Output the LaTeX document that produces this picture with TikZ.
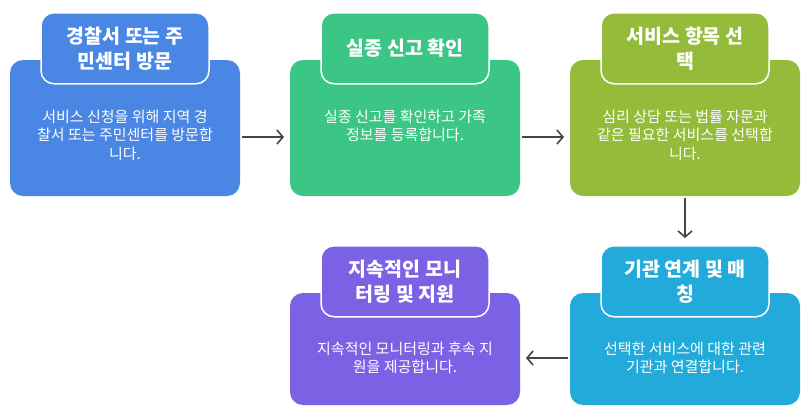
\documentclass[tikz,border=0pt]{standalone}
\usepackage{fontspec}
\setmainfont{Noto Sans CJK KR}
\usetikzlibrary{positioning,arrows.meta}
\definecolor{stepblue}{HTML}{4A86E4}
\definecolor{stepgreen}{HTML}{3CC686}
\definecolor{stepolive}{HTML}{94BC3A}
\definecolor{stepcyan}{HTML}{21AADA}
\definecolor{steppurple}{HTML}{7B62E4}
\definecolor{arrowgray}{HTML}{444444}
\begin{document}
\begin{tikzpicture}[x=1pt,y=1pt,
  stepbody/.style={rounded corners=13pt,minimum width=230pt,outer sep=0pt,inner sep=0pt},
  steptitle/.style={rounded corners=13pt,draw=white,line width=1.5pt,minimum width=168pt,
    minimum height=71pt,anchor=north,text=white,align=center,inner sep=0pt,
    font=\fontsize{19.5}{25}\selectfont\bfseries},
  stepdesc/.style={anchor=north,text=white,align=center,inner sep=0pt,
    font=\fontsize{15}{18.5}\selectfont},
  flow/.style={draw=arrowgray,line width=1.6pt,-{Straight Barb[length=6pt,width=14pt]}}]
  \useasboundingbox (0,0) rectangle (811,-416);
  % top row
  \node[stepbody,fill=stepblue,minimum height=136pt] (b1) at (125,-128) {};
  \node[stepbody,fill=stepgreen,minimum height=136pt,right=50pt of b1] (b2) {};
  \node[stepbody,fill=stepolive,minimum height=136pt,right=50pt of b2] (b3) {};
  % bottom row
  \node[stepbody,fill=stepcyan,minimum height=112pt,below=97pt of b3] (b4) {};
  \node[stepbody,fill=steppurple,minimum height=112pt,left=50pt of b4] (b5) {};
  % titles
  \node[steptitle,fill=stepblue] (t1) at ([yshift=48pt]b1.north) {경찰서 또는 주\\민센터 방문};
  \node[steptitle,fill=stepgreen] (t2) at ([yshift=48pt]b2.north) {실종 신고 확인};
  \node[steptitle,fill=stepolive] (t3) at ([yshift=48pt]b3.north) {서비스 항목 선\\택};
  \node[steptitle,fill=stepcyan] (t4) at ([yshift=48pt]b4.north) {기관 연계 및 매\\칭};
  \node[steptitle,fill=steppurple] (t5) at ([yshift=48pt]b5.north) {지속적인 모니\\터링 및 지원};
  % descriptions
  \node[stepdesc] (d1) at ([yshift=-25pt]t1.south) {서비스 신청을 위해 지역 경\\찰서 또는 주민센터를 방문합\\니다.};
  \node[stepdesc] (d2) at ([yshift=-25pt]t2.south) {실종 신고를 확인하고 가족\\정보를 등록합니다.};
  \node[stepdesc] (d3) at ([yshift=-25pt]t3.south) {심리 상담 또는 법률 자문과\\같은 필요한 서비스를 선택합\\니다.};
  \node[stepdesc] (d4) at ([yshift=-24pt]t4.south) {선택한 서비스에 대한 관련\\기관과 연결합니다.};
  \node[stepdesc] (d5) at ([yshift=-24pt]t5.south) {지속적인 모니터링과 후속 지\\원을 제공합니다.};
  % arrows
  \draw[flow] ([xshift=2pt,yshift=-9pt]b1.east) -- ([xshift=-6pt,yshift=-9pt]b2.west);
  \draw[flow] ([xshift=2pt,yshift=-9pt]b2.east) -- ([xshift=-6pt,yshift=-9pt]b3.west);
  \draw[flow] ([yshift=-2pt]b3.south) -- ([yshift=7pt]t4.north);
  \draw[flow] ([xshift=-2pt,yshift=-9pt]b4.west) -- ([xshift=6pt,yshift=-9pt]b5.east);
\end{tikzpicture}
\end{document}
